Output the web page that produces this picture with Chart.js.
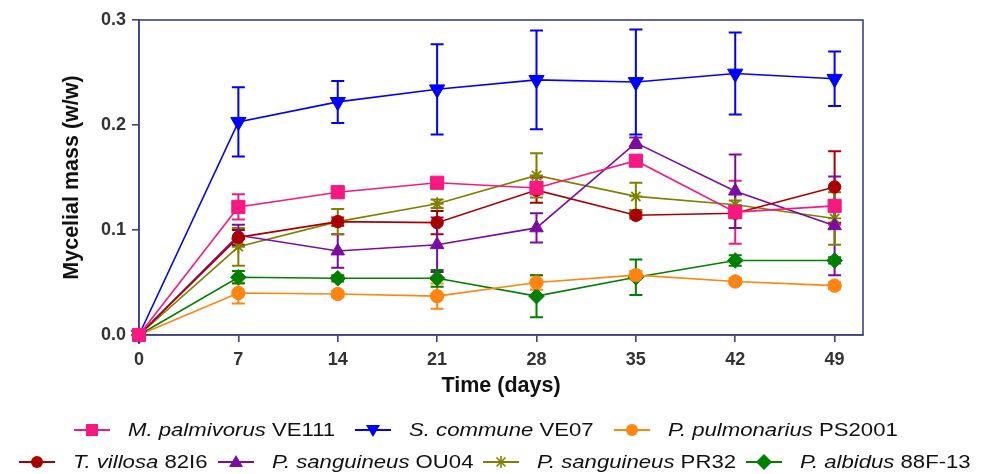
<!DOCTYPE html>
<html>
<head>
<meta charset="utf-8">
<script src="https://cdn.jsdelivr.net/npm/chart.js@4/dist/chart.umd.min.js"></script>
<style>
  html, body { margin: 0; padding: 0; background: #fff; }
  #wrap { position: relative; width: 988px; height: 474px; overflow: hidden; }
  #legend { position: absolute; left: 0; top: 414px; width: 988px; font-family: 'Liberation Sans', Arial, sans-serif; font-size: 18px; color: #111; }
  .row { display: flex; justify-content: center; align-items: center; height: 32px; white-space: nowrap; }
  .item { display: flex; align-items: center; }
  .item svg { margin-right: 18px; flex: none; }
  .txt { display: inline-block; }
  .txt span { display: inline-block; transform-origin: 0 50%; }
</style>
</head>
<body>
<div id="wrap">
  <canvas id="c" width="988" height="474"></canvas>
  <div id="legend"></div>
</div>
<script>
// ---- data ----
const days = [0, 7, 14, 21, 28, 35, 42, 49];
const xTickValues = [0, 7, 14, 21, 28, 35, 42, 49];
const yTickValues = [0.0, 0.1, 0.2, 0.3];

const speciesNames = ['M. palmivorus', 'S. commune', 'P. pulmonarius', 'T. villosa', 'P. sanguineus', 'P. sanguineus', 'P. albidus'];
const strainNames = ['VE111', 'VE07', 'PS2001', '82I6', 'OU04', 'PR32', '88F-13'];

const palmivorusVE111 = [0, 0.122, 0.136, 0.145, 0.140, 0.166, 0.117, 0.123];
const palmivorusVE111Err = [0, 0.012, 0.004, 0.004, 0.006, 0.004, 0.030, 0.018];
const communeVE07 = [0, 0.203, 0.222, 0.234, 0.243, 0.241, 0.249, 0.244];
const communeVE07Err = [0, 0.033, 0.020, 0.043, 0.047, 0.050, 0.039, 0.026];
const pulmonariusPS2001 = [0, 0.040, 0.039, 0.037, 0.050, 0.057, 0.051, 0.047];
const pulmonariusPS2001Err = [0, 0.010, 0.003, 0.012, 0.007, 0.004, 0.003, 0.003];
const villosa82I6 = [0, 0.093, 0.108, 0.107, 0.138, 0.114, 0.116, 0.141];
const villosa82I6Err = [0, 0.007, 0.004, 0.011, 0.012, 0.003, 0.004, 0.034];
const sanguineusOU04 = [0, 0.095, 0.080, 0.086, 0.102, 0.183, 0.137, 0.104];
const sanguineusOU04Err = [0, 0.010, 0.016, 0.026, 0.014, 0.005, 0.035, 0.047];
const sanguineusPR32 = [0, 0.084, 0.108, 0.125, 0.152, 0.132, 0.124, 0.111];
const sanguineusPR32Err = [0, 0.018, 0.012, 0.004, 0.021, 0.013, 0.004, 0.025];
const albidus88F13 = [0, 0.055, 0.054, 0.054, 0.037, 0.055, 0.071, 0.071];
const albidus88F13Err = [0, 0.006, 0.003, 0.008, 0.020, 0.017, 0.005, 0.003];

// ---- styles ----
const seriesValues = [palmivorusVE111, communeVE07, pulmonariusPS2001, villosa82I6, sanguineusOU04, sanguineusPR32, albidus88F13];
const seriesErrors = [palmivorusVE111Err, communeVE07Err, pulmonariusPS2001Err, villosa82I6Err, sanguineusOU04Err, sanguineusPR32Err, albidus88F13Err];
const colors = ['#f7197f', '#0000ff', '#ff8410', '#a80000', '#7a0ca0', '#808000', '#007f00'];
const pStyles = ['rect', 'triangle', 'circle', 'circle', 'triangle', 'star', 'rectRot'];
const pRot = [0, 180, 0, 0, 0, 0, 0];
const pRadius = [9.3, 8.8, 6.7, 6.2, 7.8, 6.5, 7.8];

const axisColor = '#3c4286';

const datasets = seriesValues.map((vals, i) => ({
  label: speciesNames[i] + ' ' + strainNames[i],
  data: days.map((d, j) => ({ x: d, y: vals[j] })),
  errs: seriesErrors[i],
  borderColor: colors[i],
  backgroundColor: colors[i],
  pointBackgroundColor: colors[i],
  pointBorderColor: colors[i],
  pointStyle: pStyles[i],
  rotation: pRot[i],
  pointRadius: pRadius[i],
  pointHoverRadius: pRadius[i],
  pointBorderWidth: pStyles[i] === 'star' ? 1.8 : 1,
  borderWidth: 1.6,
  tension: 0,
  clip: false,
  fill: false
}));

const errorBars = {
  id: 'errorBars',
  beforeDatasetsDraw(chart) {
    const ctx = chart.ctx;
    const ys = chart.scales.y, xs = chart.scales.x;
    ctx.save();
    chart.data.datasets.forEach((ds) => {
      ctx.strokeStyle = ds.borderColor;
      ctx.lineWidth = 2;
      ds.data.forEach((p, j) => {
        const e = ds.errs[j];
        if (!e) return;
        const x = xs.getPixelForValue(p.x);
        const y1 = ys.getPixelForValue(p.y + e);
        const y2 = ys.getPixelForValue(p.y - e);
        ctx.beginPath();
        ctx.moveTo(x, y1); ctx.lineTo(x, y2);
        ctx.moveTo(x - 6.5, y1); ctx.lineTo(x + 6.5, y1);
        ctx.moveTo(x - 6.5, y2); ctx.lineTo(x + 6.5, y2);
        ctx.stroke();
      });
    });
    ctx.restore();
  }
};

const frame = {
  id: 'frame',
  beforeDatasetsDraw(chart) {
    const { left, right, top, bottom } = chart.chartArea;
    const ctx = chart.ctx;
    ctx.save();
    ctx.strokeStyle = axisColor;
    ctx.lineWidth = 1.6;
    ctx.strokeRect(left, top, right - left, bottom - top);
    ctx.restore();
  }
};

Chart.defaults.font.family = "'Liberation Sans', Arial, sans-serif";

new Chart(document.getElementById('c'), {
  type: 'line',
  data: { datasets },
  options: {
    responsive: false,
    animation: false,
    events: [],
    layout: { padding: { left: 0, right: 125, top: 20, bottom: 0 } },
    plugins: { legend: { display: false }, tooltip: { enabled: false } },
    scales: {
      x: {
        type: 'linear',
        min: 0, max: 51,
        afterFit(s) { s.height = 139; },
        afterBuildTicks(s) { s.ticks = xTickValues.map(v => ({ value: v })); },
        grid: { drawOnChartArea: false, drawTicks: true, tickLength: 7, color: axisColor, lineWidth: 1.6 },
        border: { display: true, color: axisColor, width: 1.6 },
        ticks: { color: '#333', font: { size: 18, weight: 'bold' }, padding: 7, maxRotation: 0 },
        title: { display: true, text: 'Time (days)', color: '#111', font: { size: 21.5, weight: 'bold' }, padding: { top: 0, bottom: 75 } }
      },
      y: {
        type: 'linear',
        min: 0, max: 0.3,
        afterFit(s) { s.width = 139; },
        afterBuildTicks(s) { s.ticks = yTickValues.map(v => ({ value: v })); },
        grid: { drawOnChartArea: false, drawTicks: true, tickLength: 7, color: axisColor, lineWidth: 1.6 },
        border: { display: true, color: axisColor, width: 1.6 },
        ticks: { color: '#333', font: { size: 18, weight: 'bold' }, padding: 6, callback: v => Number(v).toFixed(1) },
        title: { display: true, text: 'Mycelial mass (w/w)', color: '#111', font: { size: 21.5, weight: 'bold' }, padding: { top: 59, bottom: 0 } }
      }
    }
  },
  plugins: [errorBars, frame]
});

// ---- HTML legend ----
function markerSvg(i) {
  const c = colors[i];
  const cx = 18, cy = 9;
  let shape = '';
  switch (i) {
    case 0: shape = `<rect x="${cx-6}" y="${cy-6}" width="12" height="12" fill="${c}"/>`; break;
    case 1: shape = `<polygon points="${cx-7},${cy-5} ${cx+7},${cy-5} ${cx},${cy+7}" fill="${c}"/>`; break;
    case 2: case 3: shape = `<circle cx="${cx}" cy="${cy}" r="6" fill="${c}"/>`; break;
    case 4: shape = `<polygon points="${cx-7},${cy+5} ${cx+7},${cy+5} ${cx},${cy-7}" fill="${c}"/>`; break;
    case 5: shape = `<g stroke="${c}" stroke-width="1.6"><line x1="${cx-6}" y1="${cy}" x2="${cx+6}" y2="${cy}"/><line x1="${cx}" y1="${cy-6}" x2="${cx}" y2="${cy+6}"/><line x1="${cx-4.5}" y1="${cy-4.5}" x2="${cx+4.5}" y2="${cy+4.5}"/><line x1="${cx-4.5}" y1="${cy+4.5}" x2="${cx+4.5}" y2="${cy-4.5}"/></g>`; break;
    case 6: shape = `<polygon points="${cx-8},${cy} ${cx},${cy-8} ${cx+8},${cy} ${cx},${cy+8}" fill="${c}"/>`; break;
  }
  return `<svg width="36" height="18" viewBox="0 0 36 18"><line x1="0" y1="${cy}" x2="36" y2="${cy}" stroke="${c}" stroke-width="2"/>${shape}</svg>`;
}
const legendRows = [[0, 1, 2], [3, 4, 5, 6]];
const rowGaps = [20, 10];
const rowShift = [-8, 1];
const textStretch = 1.23;
const leg = document.getElementById('legend');
legendRows.forEach((row, r) => {
  const div = document.createElement('div');
  div.className = 'row';
  div.style.gap = rowGaps[r] + 'px';
  div.style.transform = `translateX(${rowShift[r]}px)`;
  row.forEach(i => {
    const it = document.createElement('div');
    it.className = 'item';
    it.innerHTML = markerSvg(i) + `<span class="txt"><span><i>${speciesNames[i]}</i> ${strainNames[i]}</span></span>`;
    div.appendChild(it);
  });
  leg.appendChild(div);
});
document.querySelectorAll('.txt').forEach(outer => {
  const inner = outer.firstElementChild;
  const w = inner.getBoundingClientRect().width;
  outer.style.width = (w * textStretch) + 'px';
  inner.style.transform = `scaleX(${textStretch})`;
});
</script>
</body>
</html>
